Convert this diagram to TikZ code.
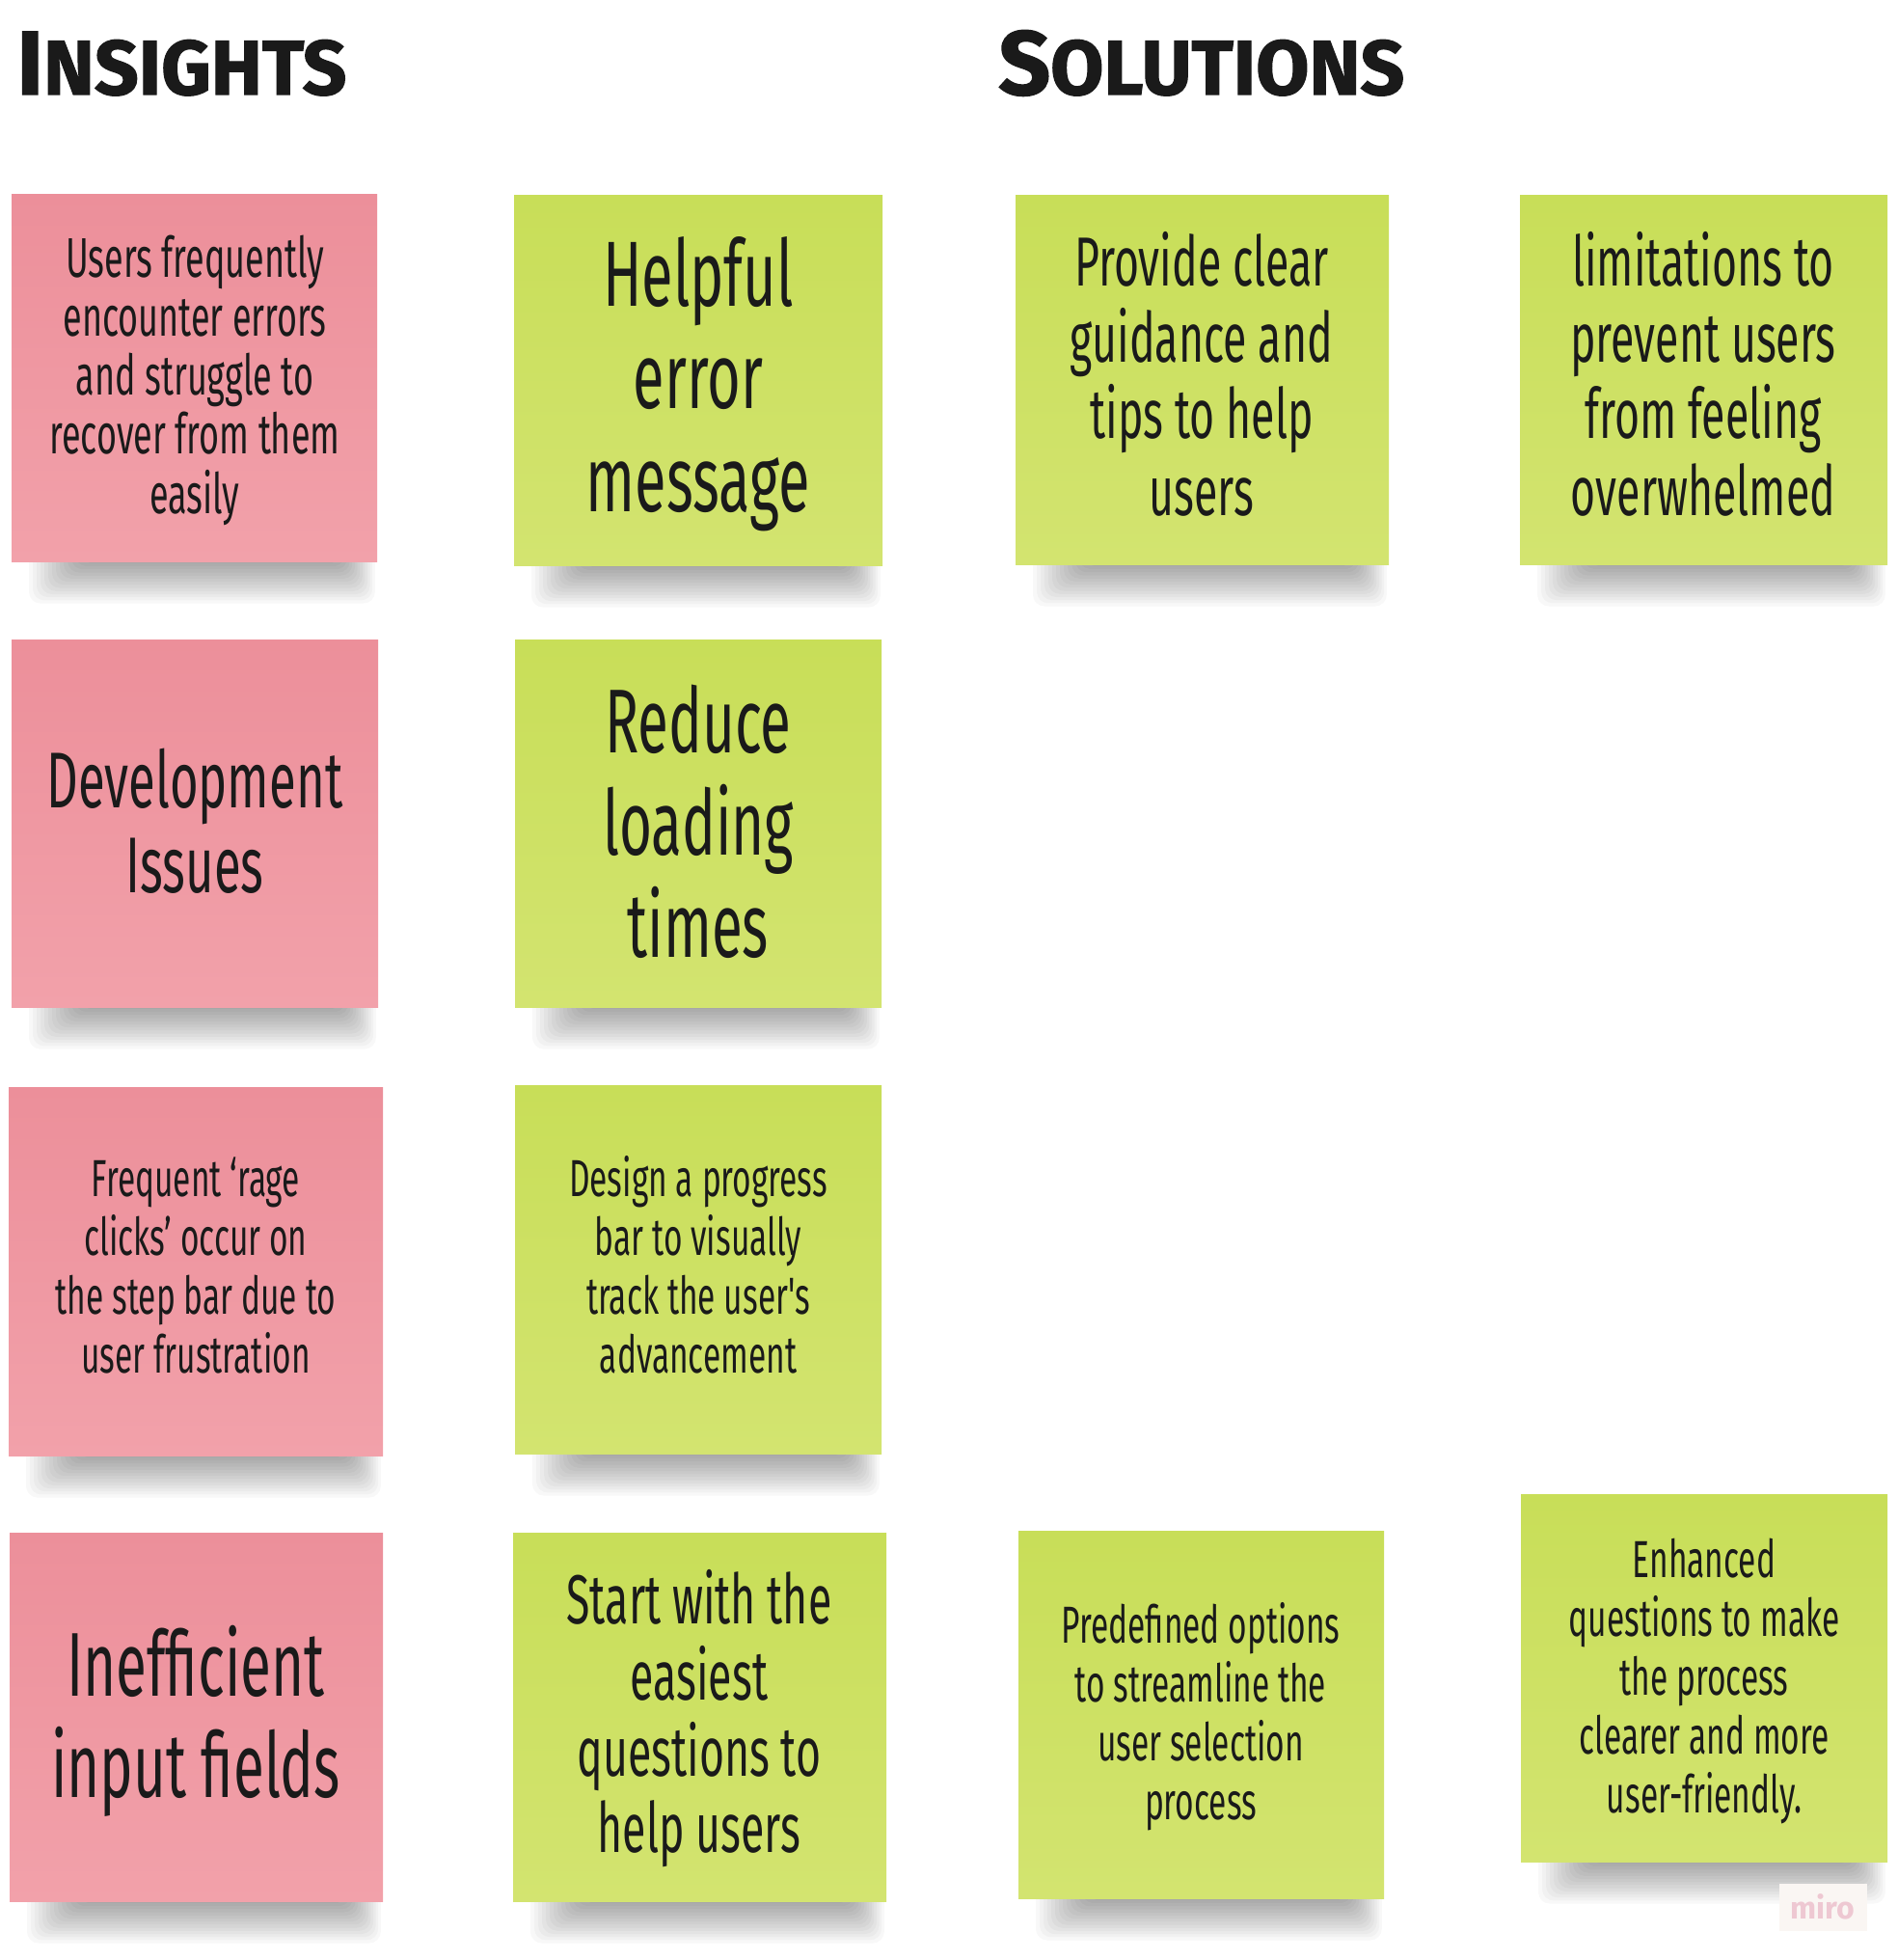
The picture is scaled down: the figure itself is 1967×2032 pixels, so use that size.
\documentclass[tikz,border=0pt]{standalone}
\usepackage{fontspec}
\newfontfamily\hand[FakeStretch=0.62]{Fira Sans}
\newfontfamily\titlefont[FakeBold=1.5]{Fira Sans}
\newfontfamily\plainsans{Fira Sans}
\definecolor{pinkT}{RGB}{236,143,154}
\definecolor{pinkB}{RGB}{242,161,170}
\definecolor{greenT}{RGB}{200,222,88}
\definecolor{greenB}{RGB}{211,228,112}
\definecolor{ink}{RGB}{26,26,26}
\definecolor{miroBg}{RGB}{250,246,243}
\definecolor{miroTx}{RGB}{238,200,210}
\tikzset{
  pinknote/.style={inner sep=0pt, outer sep=0pt, draw=none, top color=pinkT, bottom color=pinkB},
  greennote/.style={inner sep=0pt, outer sep=0pt, draw=none, top color=greenT, bottom color=greenB},
  txt/.style={inner sep=0pt, text=ink},
  title/.style={inner sep=0pt, text=ink, anchor=base west},
  shadowlayer/.style={fill=black, opacity=0.028, rounded corners=6pt},
}
% name, x1, y1, x2, y2, style
\newcommand\mknote[6]{%
  \foreach \k in {0,...,13}{%
    \fill[shadowlayer] ({#2+70-\k*4},{#5-40}) rectangle ({#4-36+\k*2.6},{#5+2+\k*3.2});}
  \node[#6, minimum width={(#4-#2)*0.5}, minimum height={(#5-#3)*0.5}] (#1) at ({(#2+#4)/2},{(#3+#5)/2}) {};
}
% name, x, first baseline, spacing, font size, lines
\newcommand\mklines[6]{%
  \foreach \t [count=\i from 0] in {#6}{%
    \node[txt, font={\hand\fontsize{#5pt}{#5pt}\selectfont}, anchor=base] (#1-\i) at (#2,{#3+\i*#4}) {\t};}
}
\begin{document}
\begin{tikzpicture}[x=0.5pt,y=-0.5pt]
\useasboundingbox[fill=white] (0,0) rectangle (1967,2032);

% titles
\node[title] (insights) at (17,98) {\titlefont\bfseries{\fontsize{47pt}{47pt}\selectfont I}{\fontsize{40pt}{40pt}\selectfont NSIGHTS}};
\node[title] (solutions) at (1035,98) {\titlefont\bfseries{\fontsize{47pt}{47pt}\selectfont S}{\fontsize{40pt}{40pt}\selectfont OLUTIONS}};

% row 1
\mknote{A}{12}{202}{391}{582}{pinknote}
\mklines{A}{202}{288}{61}{29}{Users frequently,encounter errors,and struggle to,recover from them,easily}
\mknote{B}{533}{203}{915}{586}{greennote}
\mklines{B}{724}{318}{106}{48}{Helpful,error,message}
\mknote{C}{1053}{203}{1440}{585}{greennote}
\mklines{C}{1246}{297}{79}{36}{Provide clear,guidance and,tips to help,users}
\mknote{D}{1576}{203}{1957}{585}{greennote}
\mklines{D}{1766}{297}{79}{36}{limitations to,prevent users,from feeling,overwhelmed}

% row 2
\mknote{E}{12}{663}{392}{1044}{pinknote}
\mklines{E}{202}{837}{88}{41}{Development,Issues}
\mknote{F}{534}{663}{914}{1044}{greennote}
\mklines{F}{724}{780}{106}{47}{Reduce,loading,times}

% row 3
\mknote{G}{9}{1127}{397}{1509}{pinknote}
\mklines{G}{203}{1240}{61}{27}{Frequent ‘rage,clicks’ occur on,the step bar due to,user frustration}
\mknote{H}{534}{1125}{914}{1507}{greennote}
\mklines{H}{724}{1240}{61}{27}{Design a progress,bar to visually,track the user's,advancement}

% row 4
\mknote{I}{10}{1589}{397}{1971}{pinknote}
\mklines{I}{203}{1758}{105}{47}{Inefficient,input fields}
\mknote{J}{532}{1589}{919}{1971}{greennote}
\mklines{J}{725}{1683}{79}{36}{Start with the,easiest,questions to,help users}
\mknote{K}{1056}{1587}{1435}{1968}{greennote}
\mklines{K}{1245}{1703}{61}{27}{Predefined options,to streamline the,user selection,process}
\mknote{L}{1577}{1549}{1957}{1930}{greennote}
\mklines{L}{1767}{1635}{61}{27}{Enhanced,questions to make,the process,clearer and more,user-friendly.}

% badge
\node[fill=miroBg, inner sep=0pt, minimum width=45.5pt, minimum height=24.5pt, text=miroTx, font={\plainsans\bfseries\fontsize{16pt}{16pt}\selectfont}] (miro) at (1890,1977) {miro};
\end{tikzpicture}
\end{document}
